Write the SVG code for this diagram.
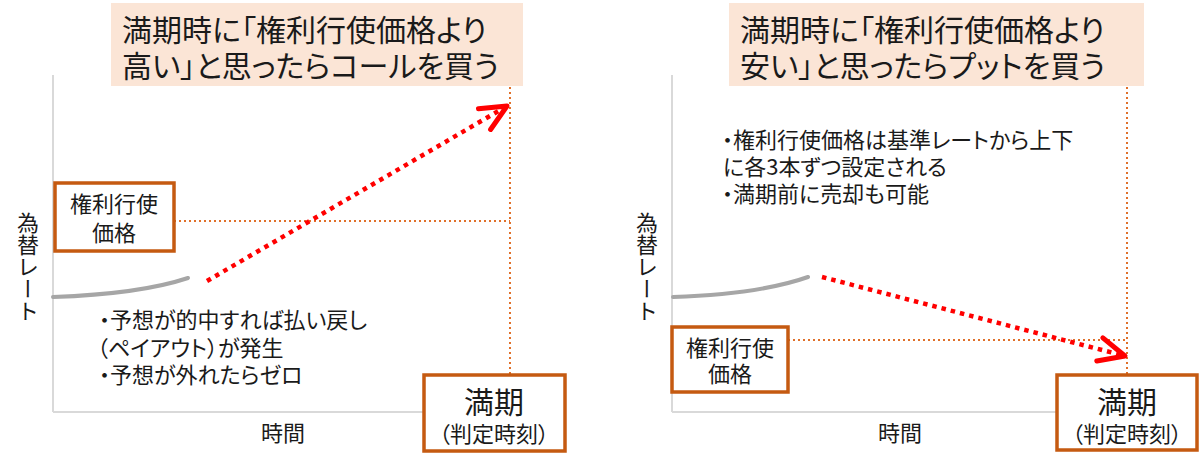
<svg xmlns="http://www.w3.org/2000/svg" width="1200" height="459" viewBox="0 0 1200 459">
  <style>
    text { font-family: "Noto Sans CJK JP", "Noto Sans", sans-serif; fill: #1a1a1a; font-feature-settings: "palt" 1; }
    .title { font-size: 30px; }
    .note { font-size: 22px; }
    .lbl { font-size: 22px; text-anchor: middle; }
    .big { font-size: 30px; text-anchor: middle; }
    .sub { font-size: 22px; text-anchor: middle; }
    .vert { font-size: 22px; writing-mode: vertical-rl; font-feature-settings: normal; }
    .tbox { fill: #FBE5D6; stroke: none; }
    .obox { fill: #ffffff; stroke: #C55A11; stroke-width: 3.5; }
    .axis { fill: none; stroke: #D9D9D9; stroke-width: 2; }
    .guide { fill: none; stroke: #E0702A; stroke-width: 2; stroke-dasharray: 2 3; }
    .trend { fill: none; stroke: #A6A6A6; stroke-width: 4; stroke-linecap: round; }
    .fcst { fill: none; stroke: #FF0000; stroke-width: 4.5; stroke-dasharray: 4.5 5; }
  </style>
  <defs>
    <marker id="chev" markerUnits="userSpaceOnUse" markerWidth="40" markerHeight="40" viewBox="-32 -20 40 40" refX="0" refY="0" orient="auto">
      <path d="M-26,-12 L0,0 L-26,12" fill="none" stroke="#FF0000" stroke-width="5" stroke-linecap="round" stroke-linejoin="round"/>
    </marker>
  </defs>

  <!-- LEFT PANEL -->
  <g id="left-axes">
    <line class="axis" x1="53" y1="75" x2="53" y2="412"/>
    <line class="axis" x1="53" y1="412" x2="424" y2="412"/>
    <text class="vert" x="28" y="212">為替レート</text>
    <text class="lbl" x="283" y="441">時間</text>
  </g>
  <g id="left-title">
    <rect class="tbox" x="111" y="3" width="412" height="83"/>
    <text class="title" x="122" y="41">満期時に「権利行使価格より</text>
    <text class="title" x="122" y="77">高い」と思ったらコールを買う</text>
  </g>
  <g id="left-history">
    <path class="trend" d="M53,297 Q140,294 188,278"/>
  </g>
  <g id="left-note">
    <text class="note" x="99" y="328">・予想が的中すれば払い戻し</text>
    <text class="note" x="97" y="356">（ペイアウト）が発生</text>
    <text class="note" x="99" y="383">・予想が外れたらゼロ</text>
  </g>

  <!-- RIGHT PANEL -->
  <g id="right-axes">
    <line class="axis" x1="672" y1="75" x2="672" y2="412"/>
    <line class="axis" x1="672" y1="412" x2="1057" y2="412"/>
    <text class="vert" x="647" y="212">為替レート</text>
    <text class="lbl" x="900" y="441">時間</text>
  </g>
  <g id="right-title">
    <rect class="tbox" x="729" y="3" width="415" height="83"/>
    <text class="title" x="740" y="41">満期時に「権利行使価格より</text>
    <text class="title" x="740" y="77">安い」と思ったらプットを買う</text>
  </g>
  <g id="right-history">
    <path class="trend" d="M673,297 Q760,294 808,277"/>
  </g>
  <g id="right-note">
    <text class="note" x="722" y="148">・権利行使価格は基準レートから上下</text>
    <text class="note" x="723" y="175">に各3本ずつ設定される</text>
    <text class="note" x="722" y="202">・満期前に売却も可能</text>
  </g>

  <!-- CONNECTORS -->
  <g id="connectors">
    <line class="guide" x1="174" y1="221" x2="510" y2="221"/>
    <line class="guide" x1="510" y1="87" x2="510" y2="375"/>
    <line class="fcst" x1="207" y1="281" x2="507" y2="106" marker-end="url(#chev)"/>
    <line class="guide" x1="788" y1="340" x2="1127" y2="340"/>
    <line class="guide" x1="1127" y1="87" x2="1127" y2="375"/>
    <line class="fcst" x1="822" y1="277" x2="1125" y2="356" marker-end="url(#chev)"/>
  </g>

  <!-- STRIKE / EXPIRY BOXES -->
  <g id="left-strike">
    <rect class="obox" x="55" y="183" width="119" height="68"/>
    <text class="lbl" x="114" y="212">権利行使</text>
    <text class="lbl" x="114" y="241">価格</text>
  </g>
  <g id="left-expiry">
    <rect class="obox" x="424" y="375" width="141" height="76"/>
    <text class="big" x="494" y="413">満期</text>
    <text class="sub" x="494" y="442">（判定時刻）</text>
  </g>
  <g id="right-strike">
    <rect class="obox" x="672" y="327" width="116" height="65"/>
    <text class="lbl" x="730" y="356">権利行使</text>
    <text class="lbl" x="730" y="382">価格</text>
  </g>
  <g id="right-expiry">
    <rect class="obox" x="1057" y="375" width="140" height="75"/>
    <text class="big" x="1127" y="413">満期</text>
    <text class="sub" x="1127" y="442">（判定時刻）</text>
  </g>
</svg>
